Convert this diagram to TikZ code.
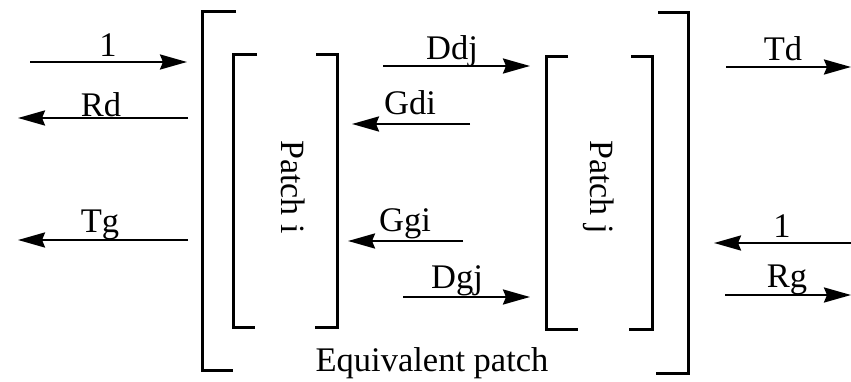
\documentclass[tikz,border=0pt]{standalone}
\usepackage{fontspec}
\setmainfont{Liberation Serif}
\usetikzlibrary{arrows.meta}
\begin{document}
\begin{tikzpicture}[x=1pt,y=-1pt,
  flow/.style={line width=2.6pt,-{Stealth[length=27pt,width=15pt,inset=3pt]}},
  brk/.style={line width=3pt},
  lbl/.style={anchor=base,inner sep=0pt,font=\fontsize{34.5}{40}\selectfont},
  vlbl/.style={anchor=base west,inner sep=0pt,rotate=-90,font=\fontsize{34}{40}\selectfont}]
\useasboundingbox (0,0) rectangle (851,382);
% outer brackets (equivalent patch)
\draw[brk] (236,12) -- (202,12) -- (202,370) -- (233,370);
\draw[brk] (658,13) -- (688,13) -- (688,373) -- (656,373);
% patch i
\draw[brk] (257,55) -- (233,55) -- (233,327) -- (255,327);
\draw[brk] (316,55) -- (337,55) -- (337,327) -- (315,327);
% patch j
\draw[brk] (568,57) -- (546,57) -- (546,329) -- (578,329);
\draw[brk] (631,57) -- (652,57) -- (652,329) -- (629,329);
% texts
\node[vlbl] (pi) at (281,140) {Patch i};
\node[vlbl] (pj) at (590,140) {Patch j};
\node[lbl] (eq) at (432,371) {Equivalent patch};
% arrow end points
\coordinate (oneLs) at (30,62);   \coordinate (oneLe) at (187,62);
\coordinate (rds) at (188,118);   \coordinate (rde) at (18,118);
\coordinate (tgs) at (188,240);   \coordinate (tge) at (18,240);
\coordinate (ddjs) at (383,66);   \coordinate (ddje) at (530,66);
\coordinate (gdis) at (470,124);  \coordinate (gdie) at (352,124);
\coordinate (ggis) at (463,241);  \coordinate (ggie) at (348,241);
\coordinate (dgjs) at (403,297);  \coordinate (dgje) at (530,297);
\coordinate (tds) at (726,67);    \coordinate (tde) at (851,67);
\coordinate (oneRs) at (851,243); \coordinate (oneRe) at (714,243);
\coordinate (rgs) at (725,295);   \coordinate (rge) at (851,295);
% arrows
\draw[flow] (oneLs) -- (oneLe);
\draw[flow] (rds) -- (rde);
\draw[flow] (tgs) -- (tge);
\draw[flow] (ddjs) -- (ddje);
\draw[flow] (gdis) -- (gdie);
\draw[flow] (ggis) -- (ggie);
\draw[flow] (dgjs) -- (dgje);
\draw[flow] (tds) -- (tde);
\draw[flow] (oneRs) -- (oneRe);
\draw[flow] (rgs) -- (rge);
% labels
\node[lbl] (l1) at (108,57) {1};
\node[lbl] (lrd) at (101,117) {Rd};
\node[lbl] (ltg) at (100,233) {Tg};
\node[lbl] (lddj) at (452,60) {Ddj};
\node[lbl] (lgdi) at (410,115) {Gdi};
\node[lbl] (lggi) at (405,232) {Ggi};
\node[lbl] (ldgj) at (457,288) {Dgj};
\node[lbl] (ltd) at (783,61) {Td};
\node[lbl] (l1r) at (782,237) {1};
\node[lbl] (lrg) at (787,287) {Rg};
\end{tikzpicture}
\end{document}
